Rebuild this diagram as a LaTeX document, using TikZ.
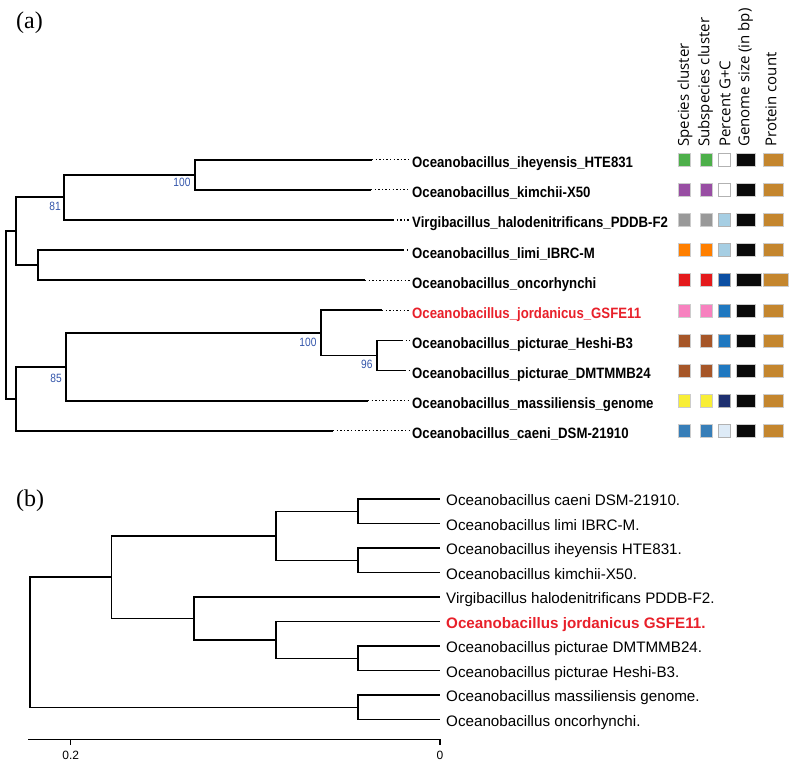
\documentclass[tikz,border=0pt]{standalone}
\usepackage{fontspec}
\setmainfont{Liberation Serif}
\setsansfont{Liberation Sans}
\newfontfamily\leaffont[FakeStretch=0.88]{Liberation Sans}
\newfontfamily\bootfont[FakeStretch=0.85]{Liberation Sans}
\newfontfamily\headfont{Open Sans}
\usetikzlibrary{positioning,calc}

\definecolor{cgreen}{HTML}{4DAF4A}
\definecolor{cpurple}{HTML}{984EA3}
\definecolor{cgray}{HTML}{999999}
\definecolor{corange}{HTML}{FF7F00}
\definecolor{cred}{HTML}{E41A1C}
\definecolor{cpink}{HTML}{F781BF}
\definecolor{cbrown}{HTML}{A65628}
\definecolor{cyellow}{HTML}{F8EE36}
\definecolor{cblue}{HTML}{377EB8}
\definecolor{gcwhite}{HTML}{FFFFFF}
\definecolor{gclight}{HTML}{A6CEE3}
\definecolor{gcdark}{HTML}{0B4EA2}
\definecolor{gcmid}{HTML}{1F78C0}
\definecolor{gcnavy}{HTML}{1D2F6F}
\definecolor{gcpale}{HTML}{DEEBF7}
\definecolor{protcol}{HTML}{C4862E}
\definecolor{bootblue}{HTML}{3355AA}
\definecolor{hired}{HTML}{E8202A}

\begin{document}
\begin{tikzpicture}[x=1pt,y=-1pt,
br/.style={line width=1.8pt},
brb/.style={line width=1.5pt},
dots/.style={line width=1.3pt,dash pattern=on 1.3pt off 2.3pt},
leaf/.style={font=\leaffont\bfseries\fontsize{15}{15}\selectfont,inner sep=0pt,anchor=base west},
leafb/.style={font=\sffamily\fontsize{15.2}{15.2}\selectfont,inner sep=0pt,anchor=base west},
boot/.style={font=\bootfont\fontsize{12}{12}\selectfont,text=bootblue,inner sep=0pt,anchor=east},
head/.style={font=\headfont\fontsize{15}{15}\selectfont,rotate=90,anchor=west,inner sep=0pt},
panel/.style={font=\fontsize{24}{24}\selectfont,anchor=north west,inner sep=0pt},
sq/.style={draw=black!20,line width=0.5pt,minimum height=13pt,inner sep=0pt}]
\useasboundingbox (0,0) rectangle (794,762);

% panel labels
\node[panel] (pa) at (16,12) {(a)};
\node[panel] (pb) at (16,490) {(b)};

% (a) leaves, solid branch end, dotted leader
\foreach \i/\nm/\sx/\col in {
  0/Oceanobacillus\_iheyensis\_HTE831/372/black,
  1/Oceanobacillus\_kimchii-X50/371/black,
  2/Virgibacillus\_halodenitrificans\_PDDB-F2/393/black,
  3/Oceanobacillus\_limi\_IBRC-M/403/black,
  4/Oceanobacillus\_oncorhynchi/365/black,
  5/Oceanobacillus\_jordanicus\_GSFE11/382/hired,
  6/Oceanobacillus\_picturae\_Heshi-B3/402/black,
  7/Oceanobacillus\_picturae\_DMTMMB24/405/black,
  8/Oceanobacillus\_massiliensis\_genome/368/black,
  9/Oceanobacillus\_caeni\_DSM-21910/333/black}{
  \coordinate (s\i) at (\sx,159.7+30.12*\i);
  \coordinate (d\i) at (410,159.7+30.12*\i);
  \node[leaf,text=\col] (l\i) at ($(d\i)+(2,8)$) {\nm};
  \draw[dots] (s\i) -- (d\i);
}

% (a) internal nodes
\path let \p1=($(s0)!0.5!(s1)$) in coordinate (h100) at (195,\y1);
\path let \p1=($(h100)!0.5!(s2)$) in coordinate (h81) at (64,\y1);
\path let \p1=($(s3)!0.5!(s4)$) in coordinate (hlo) at (38.3,\y1);
\path let \p1=($(h81)!0.5!(hlo)$) in coordinate (hup) at (15.7,\y1);
\path let \p1=($(s6)!0.5!(s7)$) in coordinate (h96) at (376.7,\y1);
\path let \p1=($(s5)!0.5!(h96)$) in coordinate (h100b) at (321,\y1);
\path let \p1=($(h100b)!0.5!(s8)$) in coordinate (h85) at (66,\y1);
\path let \p1=($(h85)!0.5!(s9)$) in coordinate (hlow) at (15.7,\y1);
\path let \p1=($(hup)!0.5!(hlow)$) in coordinate (hroot) at (6,\y1);

\draw[br] (h100) |- (s0) (h100) |- (s1);
\draw[br] (h81) |- (h100) (h81) |- (s2);
\draw[br] (hlo) |- (s3) (hlo) |- (s4);
\draw[br] (hup) |- (h81) (hup) |- (hlo);
\draw[br] (h96) |- (s6) (h96) |- (s7);
\draw[br] (h100b) |- (s5) (h100b) |- (h96);
\draw[br] (h85) |- (h100b) (h85) |- (s8);
\draw[br] (hlow) |- (h85) (hlow) |- (s9);
\draw[br] (hroot) |- (hup) (hroot) |- (hlow);

% bootstrap values
\node[boot] (bs1) at (190.7,182.5) {100};
\node[boot] (bs2) at (61,206) {81};
\node[boot] (bs3) at (316.7,342.5) {100};
\node[boot] (bs4) at (372.7,364) {96};
\node[boot] (bs5) at (62,378) {85};

% metadata columns
\node[head] (t1) at (685,147) {Species cluster};
\node[head] (t2) at (705.5,147) {Subspecies cluster};
\node[head] (t3) at (725,147) {Percent G+C};
\node[head] (t4) at (745.5,147) {Genome size (in bp)};
\node[head] (t5) at (771,147) {Protein count};

\foreach \i/\sp/\gc/\gw/\pw in {
  0/cgreen/gcwhite/19/20, 1/cpurple/gcwhite/19/20, 2/cgray/gclight/19/20,
  3/corange/gclight/19/20, 4/cred/gcdark/24.5/25, 5/cpink/gcmid/19/20,
  6/cbrown/gcmid/19/20, 7/cbrown/gcmid/19/20, 8/cyellow/gcnavy/19/20,
  9/cblue/gcpale/19/20}{
  \node[sq,fill=\sp,minimum width=12pt] (sp\i) at (684.2,159.7+30.12*\i) {};
  \node[sq,fill=\sp,minimum width=12pt] (ss\i) at (706.7,159.7+30.12*\i) {};
  \node[sq,fill=\gc,draw=black!30,minimum width=12pt] (gc\i) at (724.2,159.7+30.12*\i) {};
  \node[sq,fill=black!96,minimum width=\gw pt,anchor=west] (gs\i) at (736,159.7+30.12*\i) {};
  \node[sq,fill=protcol,minimum width=\pw pt,anchor=west] (pc\i) at (763.3,159.7+30.12*\i) {};
}

% (b) leaves
\foreach \j/\nm in {
  0/Oceanobacillus caeni DSM-21910.,
  1/Oceanobacillus limi IBRC-M.,
  2/Oceanobacillus iheyensis HTE831.,
  3/Oceanobacillus kimchii-X50.,
  4/Virgibacillus halodenitrificans PDDB-F2.,
  6/Oceanobacillus picturae DMTMMB24.,
  7/Oceanobacillus picturae Heshi-B3.,
  8/Oceanobacillus massiliensis genome.,
  9/Oceanobacillus oncorhynchi.}{
  \coordinate (t\j) at (440,499+24.5*\j);
  \node[leafb] (m\j) at ($(t\j)+(6,6.8)$) {\nm};
}
\coordinate (t5) at (440,499+24.5*5);
\node[leafb,font=\sffamily\bfseries\fontsize{15.2}{15.2}\selectfont,text=hired] (m5) at ($(t5)+(6,6.8)$) {Oceanobacillus jordanicus GSFE11.};

% (b) internal nodes
\path let \p1=($(t0)!0.5!(t1)$) in coordinate (k01) at (358,\y1);
\path let \p1=($(t2)!0.5!(t3)$) in coordinate (k23) at (358,\y1);
\path let \p1=($(t6)!0.5!(t7)$) in coordinate (k67) at (358,\y1);
\path let \p1=($(t8)!0.5!(t9)$) in coordinate (k89) at (358,\y1);
\path let \p1=($(k01)!0.5!(k23)$) in coordinate (kA) at (276,\y1);
\path let \p1=($(t5)!0.5!(k67)$) in coordinate (kB) at (276,\y1);
\path let \p1=($(t4)!0.5!(kB)$) in coordinate (kC) at (194,\y1);
\path let \p1=($(kA)!0.5!(kC)$) in coordinate (kD) at (111.7,\y1);
\path let \p1=($(kD)!0.5!(k89)$) in coordinate (kR) at (30,\y1);

\draw[brb] (k01) |- (t0) (k01) |- (t1);
\draw[brb] (k23) |- (t2) (k23) |- (t3);
\draw[brb] (k67) |- (t6) (k67) |- (t7);
\draw[brb] (k89) |- (t8) (k89) |- (t9);
\draw[brb] (kA) |- (k01) (kA) |- (k23);
\draw[brb] (kB) |- (t5) (kB) |- (k67);
\draw[brb] (kC) |- (t4) (kC) |- (kB);
\draw[brb] (kD) |- (kA) (kD) |- (kC);
\draw[brb] (kR) |- (kD) (kR) |- (k89);

% scale
\coordinate (ax0) at (28,739.3);
\coordinate (ax1) at (440,739.3);
\coordinate (tk2) at (70.7,739.3);
\draw[brb] (ax0) -- (ax1) -- ++(0,6);
\draw[brb] (tk2) -- ++(0,6);
\node[font=\sffamily\fontsize{12}{12}\selectfont,anchor=north] (v2) at ($(tk2)+(0,8.5)$) {0.2};
\node[font=\sffamily\fontsize{12}{12}\selectfont,anchor=north] (v0) at ($(ax1)+(0,8.5)$) {0};
\end{tikzpicture}
\end{document}
